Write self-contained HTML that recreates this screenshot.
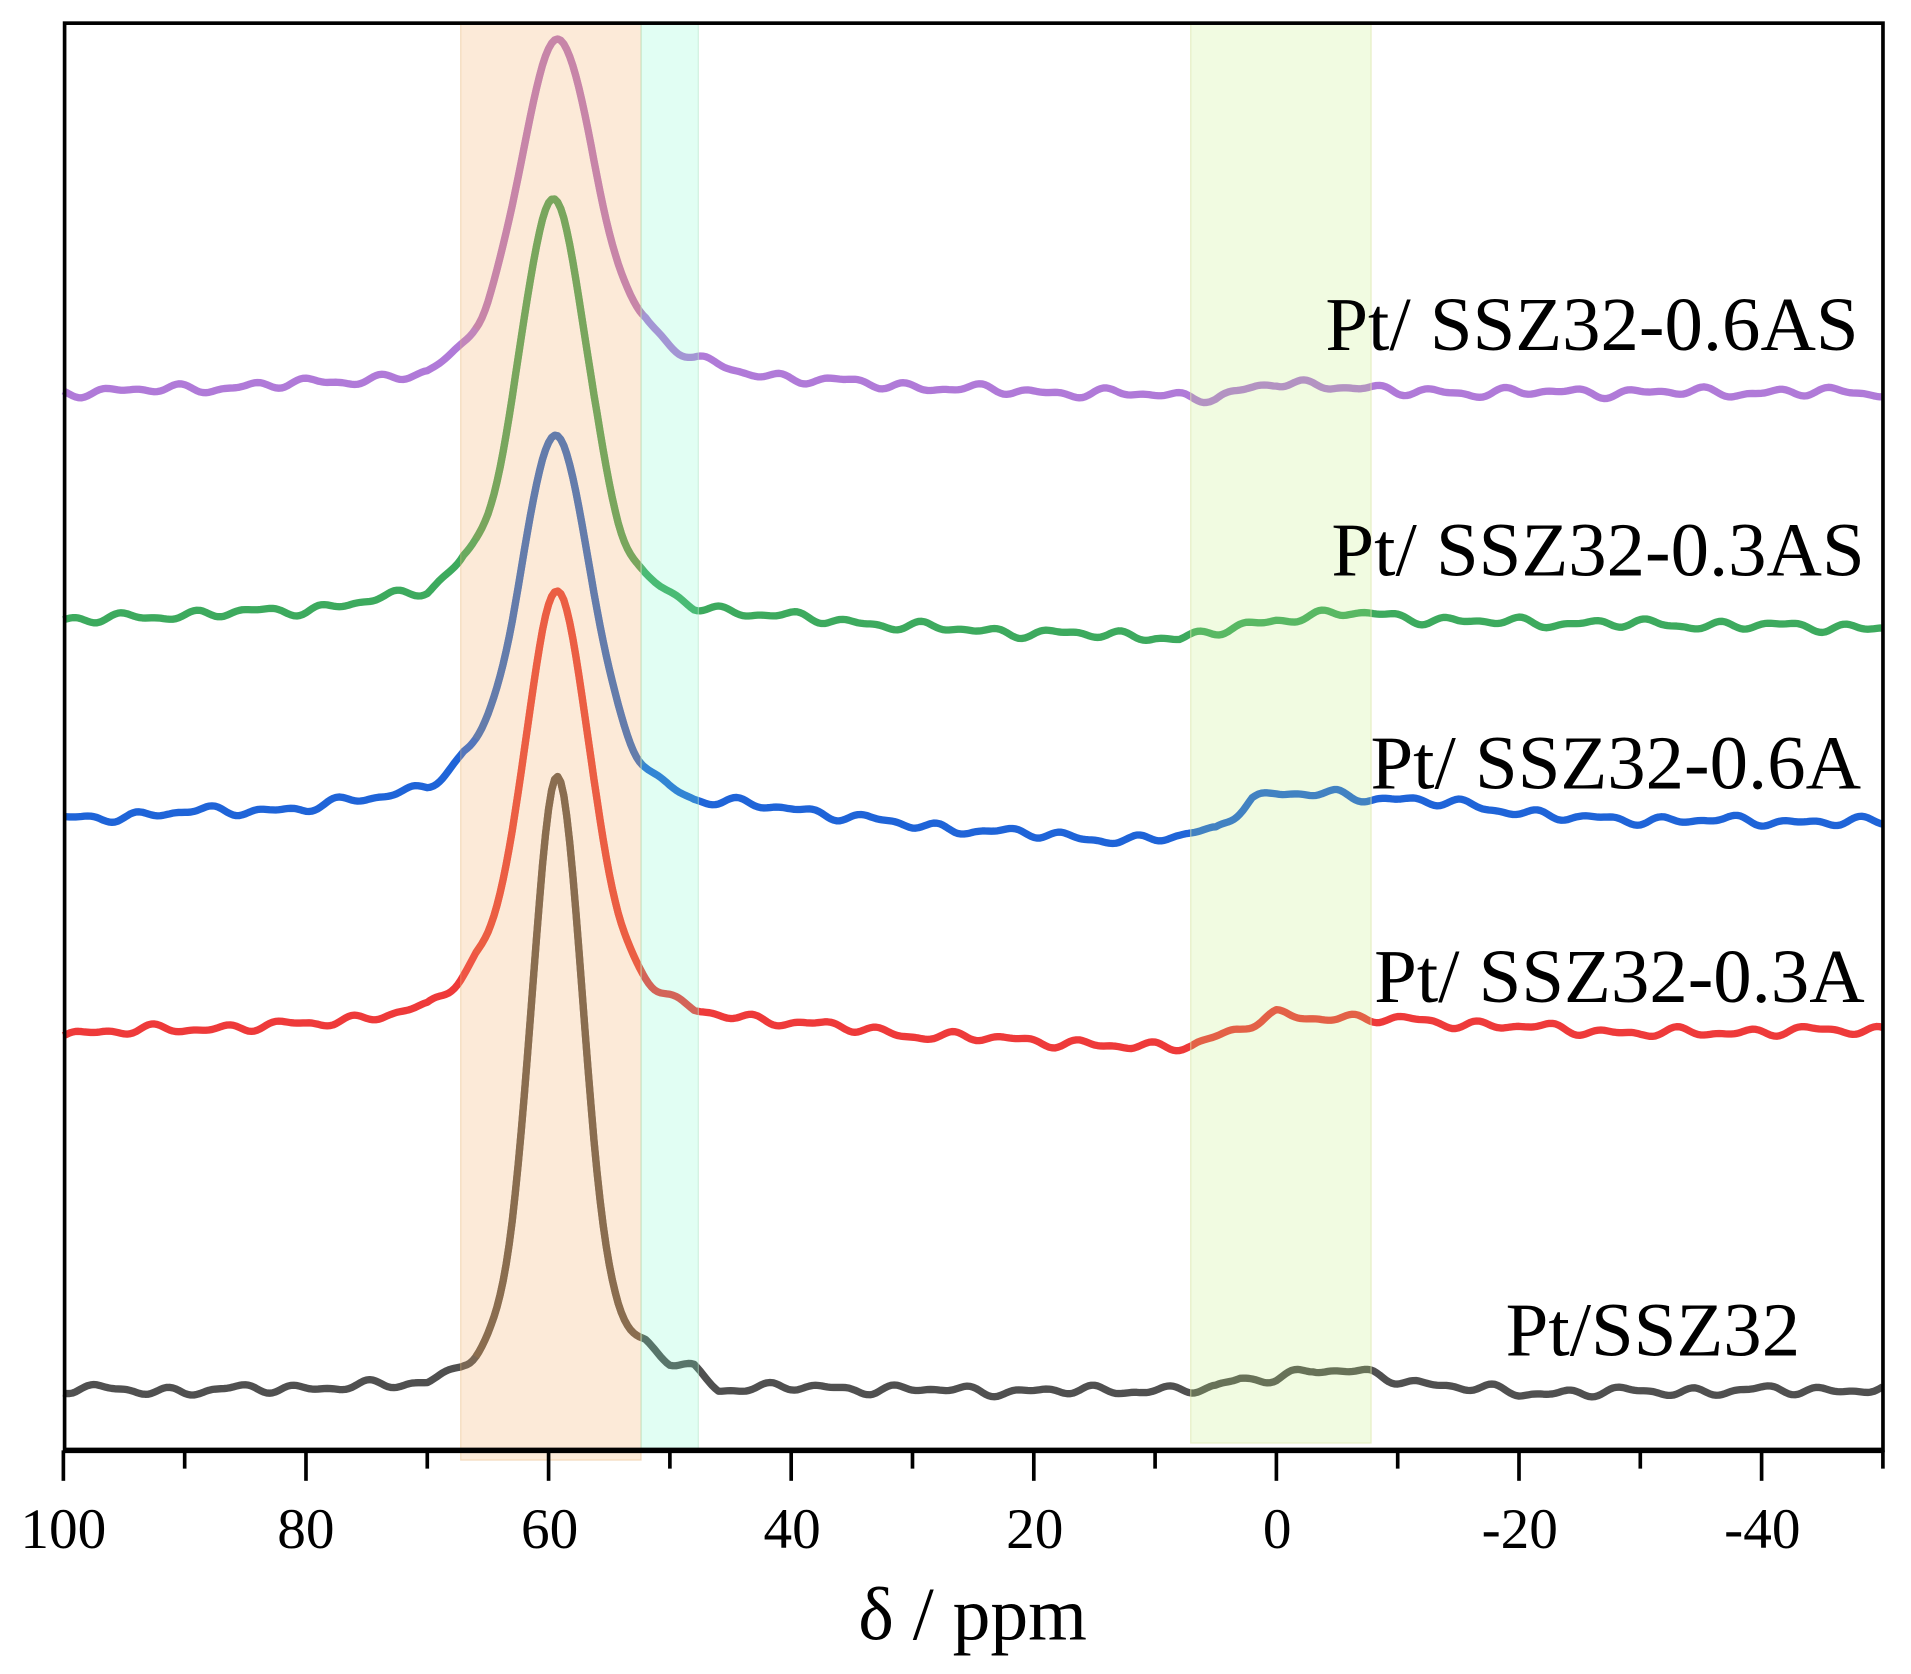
<!DOCTYPE html>
<html><head><meta charset="utf-8">
<style>
html,body{margin:0;padding:0;background:#fff;}
svg{display:block;}
text{font-family:"Liberation Serif",serif;fill:#000;}
</style></head>
<body>
<svg id="s" xmlns="http://www.w3.org/2000/svg" width="1911" height="1674" viewBox="0 0 1568 1373.5" preserveAspectRatio="none">
<g id="lines"></g>
<rect x="378" y="18" width="148" height="1180" fill="rgba(245,170,100,0.25)" stroke="rgba(230,180,120,0.4)" stroke-width="1"/>
<rect x="526" y="18" width="47" height="1172" fill="rgba(120,250,200,0.22)" stroke="rgba(180,230,200,0.5)" stroke-width="1"/>
<rect x="977" y="18" width="148" height="1166" fill="rgba(190,235,120,0.22)" stroke="rgba(220,230,170,0.6)" stroke-width="1"/>
<rect x="53" y="19" width="1492" height="1171" fill="none" stroke="#000" stroke-width="3"/>
<line x1="52" y1="1190" x2="1546" y2="1190" stroke="#000" stroke-width="4.5"/>
<g id="ticks" stroke="#000" stroke-width="3"></g>
<g font-size="47" text-anchor="middle" id="tl">
<text x="52" y="1270">100</text><text x="251" y="1270">80</text><text x="451" y="1270">60</text>
<text x="650" y="1270">40</text><text x="849" y="1270">20</text><text x="1048" y="1270">0</text>
<text x="1247" y="1270">-20</text><text x="1446" y="1270">-40</text>
</g>
<text x="798" y="1345" font-size="62" text-anchor="middle">δ / ppm</text>
<g font-size="63" text-anchor="end">
<text x="1525" y="287">Pt/ SSZ32-0.6AS</text>
<text x="1530" y="472">Pt/ SSZ32-0.3AS</text>
<text x="1527" y="647">Pt/ SSZ32-0.6A</text>
<text x="1530" y="822">Pt/ SSZ32-0.3A</text>
<text x="1477" y="1112">Pt/SSZ32</text>
</g>
</svg>
<script>
(function(){
var NS="http://www.w3.org/2000/svg";
function X(p){return 52+(100-p)*9.953;}
var tg=document.getElementById('ticks');
for(var p=100;p>=-50;p-=10){var l=document.createElementNS(NS,'line');var x=X(p);
l.setAttribute('x1',x);l.setAttribute('x2',x);l.setAttribute('y1',1190);l.setAttribute('y2',p%20==0?1215:1205);tg.appendChild(l);}
function interp(k,p){
 if(p>=k[0][0])return k[0][1];
 for(var i=1;i<k.length;i++){if(p>=k[i][0]){var a=k[i-1],b=k[i];var t=(p-a[0])/(b[0]-a[0]);return a[1]+t*(b[1]-a[1]);}}
 return k[k.length-1][1];}
var S=[
 {c:"#b07ad8",pc:"#bb78bb",k:[[100,322],[90,320],[80,316],[70,312],[66,295],[62,290],[56,285],[52,282],[48,300],[44,308],[40,312],[30,318],[20,322],[10,324],[5,326],[3,322],[0,315],[-5,316],[-10,322],[-50,322]],pk:59.3,top:32,w:3.0,seed:1},
 {c:"#3daa5e",pc:"#55a35a",k:[[100,510],[90,505],[80,502],[70,490],[67,472],[62,468],[56,470],[52,488],[48,502],[40,508],[30,515],[20,520],[10,522],[8,525],[3,515],[0,508],[-6,503],[-15,510],[-50,515]],pk:59.6,top:163,w:2.7,seed:2},
 {c:"#1f64d8",pc:"#3a6fc0",k:[[100,673],[90,667],[80,665],[70,650],[67,635],[62,630],[56,635],[52,645],[48,660],[40,665],[30,678],[20,685],[12,690],[8,687],[5,680],[2,655],[0,652],[-5,652],[-15,660],[-25,672],[-50,675]],pk:59.4,top:357,w:2.8,seed:3},
 {c:"#ee3a3a",pc:"#e8463a",k:[[100,848],[90,845],[80,842],[70,832],[66,805],[62,798],[56,800],[52,815],[48,835],[40,840],[30,850],[20,854],[12,860],[7,857],[3,845],[0,833],[-10,837],[-30,848],[-50,845]],pk:59.3,top:485,w:2.6,seed:4},
 {c:"#505050",pc:"#6b5a47",k:[[100,1140],[90,1142],[80,1140],[70,1140],[67,1128],[64,1125],[56,1118],[52,1115],[50,1125],[48,1128],[46,1143],[40,1140],[20,1142],[5,1140],[3,1132],[0,1130],[-3,1124],[-8,1128],[-12,1135],[-20,1143],[-50,1140]],pk:59.3,top:637,w:2.15,seed:5}
];
var g=document.getElementById('lines');
S.forEach(function(s){
 var base0=interp(s.k,s.pk);var A=base0-s.top;
 var pts=[],ppts=[];
 for(var p=100;p>=-50.001;p-=0.25){
  var b=interp(s.k,p);
  var d=p-s.pk;
  var pk=0.8*Math.exp(-d*d/(2*s.w*s.w))+0.2/(1+d*d/(s.w*s.w*1.6));
  var n=2.4*Math.sin(p*1.15+s.seed*1.3)+1.6*Math.sin(p*1.9+s.seed*2.7)+1.2*Math.sin(p*0.55+s.seed*4.1);
  var damp=Math.min(1,Math.abs(d)/6);
  var y=b-A*pk+n*damp;
  var x=X(p);
  pts.push(x.toFixed(1)+","+y.toFixed(1));
  if(x>390&&x<528)ppts.push(x.toFixed(1)+","+y.toFixed(1));
 }
 var pl=document.createElementNS(NS,'polyline');
 pl.setAttribute('points',pts.join(' '));pl.setAttribute('fill','none');pl.setAttribute('stroke',s.c);
 pl.setAttribute('stroke-width','6');pl.setAttribute('stroke-linejoin','round');g.appendChild(pl);
 var p2=document.createElementNS(NS,'polyline');
 p2.setAttribute('points',ppts.join(' '));p2.setAttribute('fill','none');p2.setAttribute('stroke',s.pc);
 p2.setAttribute('stroke-width','6');p2.setAttribute('stroke-linejoin','round');p2.setAttribute('opacity','0.85');g.appendChild(p2);
});
})();
</script>
</body></html>
